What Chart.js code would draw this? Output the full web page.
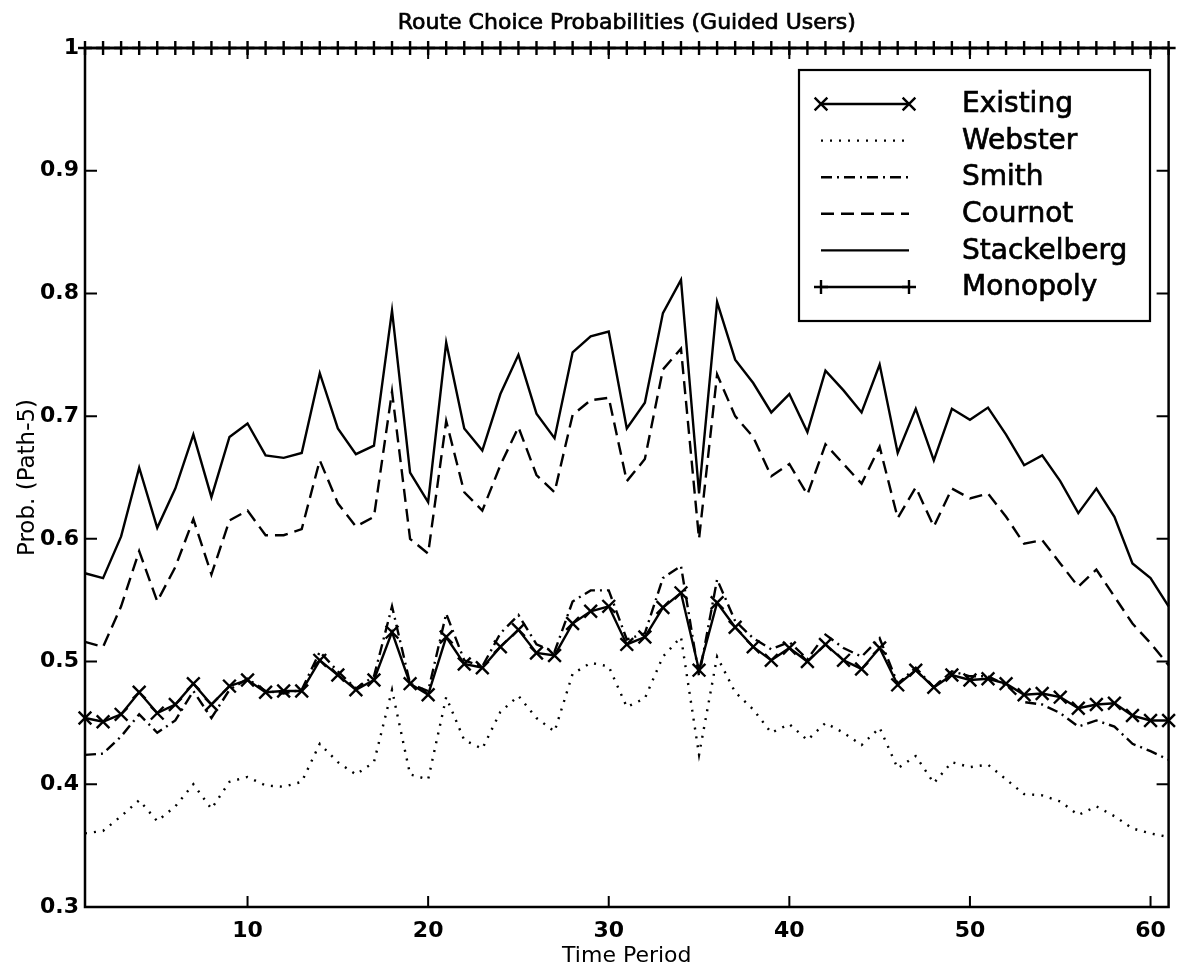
<!DOCTYPE html>
<html><head><meta charset="utf-8">
<script src="https://cdn.jsdelivr.net/npm/chart.js@4.4.1/dist/chart.umd.min.js"></script>
<style>html,body{margin:0;padding:0;background:#fff}#wrap{width:1180px;height:973px;position:relative}</style>
</head><body><div id="wrap"><canvas id="c"></canvas></div>
<script>
const timePeriods = [1,2,3,4,5,6,7,8,9,10,11,12,13,14,15,16,17,18,19,20,21,22,23,24,25,26,27,28,29,30,31,32,33,34,35,36,37,38,39,40,41,42,43,44,45,46,47,48,49,50,51,52,53,54,55,56,57,58,59,60,61];
const existing = [0.454,0.451,0.457,0.475,0.458,0.465,0.482,0.465,0.480,0.485,0.475,0.476,0.476,0.501,0.489,0.477,0.485,0.524,0.482,0.473,0.520,0.498,0.495,0.512,0.526,0.507,0.505,0.531,0.541,0.545,0.514,0.520,0.544,0.556,0.493,0.548,0.528,0.512,0.501,0.511,0.500,0.514,0.501,0.494,0.511,0.481,0.493,0.479,0.489,0.485,0.486,0.482,0.473,0.474,0.471,0.462,0.465,0.466,0.456,0.452,0.452];
const webster = [0.360,0.362,0.374,0.387,0.370,0.382,0.400,0.380,0.402,0.406,0.399,0.398,0.402,0.433,0.418,0.408,0.418,0.477,0.408,0.404,0.471,0.436,0.429,0.459,0.472,0.454,0.443,0.490,0.499,0.496,0.463,0.470,0.504,0.520,0.424,0.504,0.475,0.461,0.442,0.449,0.436,0.450,0.442,0.432,0.446,0.413,0.423,0.401,0.418,0.414,0.416,0.404,0.392,0.391,0.386,0.375,0.382,0.374,0.364,0.360,0.357];
const smith = [0.424,0.425,0.439,0.457,0.442,0.452,0.476,0.454,0.477,0.486,0.476,0.474,0.477,0.508,0.492,0.478,0.488,0.545,0.482,0.476,0.539,0.501,0.496,0.523,0.538,0.514,0.508,0.549,0.558,0.558,0.518,0.523,0.568,0.578,0.488,0.567,0.533,0.519,0.510,0.516,0.502,0.522,0.511,0.504,0.519,0.482,0.495,0.479,0.492,0.488,0.488,0.481,0.467,0.465,0.458,0.447,0.452,0.447,0.433,0.427,0.420];
const cournot = [0.516,0.512,0.545,0.590,0.549,0.577,0.616,0.571,0.615,0.623,0.603,0.603,0.608,0.664,0.629,0.610,0.618,0.720,0.600,0.588,0.696,0.638,0.623,0.660,0.691,0.652,0.638,0.701,0.713,0.715,0.647,0.665,0.738,0.755,0.600,0.734,0.700,0.683,0.651,0.661,0.636,0.677,0.661,0.645,0.675,0.617,0.642,0.610,0.641,0.633,0.637,0.618,0.596,0.599,0.580,0.561,0.575,0.553,0.531,0.515,0.497];
const stackelberg = [0.572,0.568,0.602,0.658,0.609,0.641,0.685,0.634,0.683,0.694,0.668,0.666,0.670,0.735,0.690,0.669,0.676,0.786,0.654,0.630,0.760,0.690,0.672,0.718,0.750,0.702,0.682,0.752,0.765,0.769,0.690,0.711,0.784,0.811,0.637,0.793,0.746,0.727,0.703,0.718,0.687,0.737,0.721,0.703,0.742,0.670,0.706,0.664,0.706,0.697,0.707,0.685,0.660,0.668,0.647,0.621,0.641,0.618,0.580,0.568,0.545];
const monopoly = [1,1,1,1,1,1,1,1,1,1,1,1,1,1,1,1,1,1,1,1,1,1,1,1,1,1,1,1,1,1,1,1,1,1,1,1,1,1,1,1,1,1,1,1,1,1,1,1,1,1,1,1,1,1,1,1,1,1,1,1,1];
const xTickValues = [10,20,30,40,50,60];
const yTickValues = [0.3,0.4,0.5,0.6,0.7,0.8,0.9,1];
const seriesNames = ['Existing','Webster','Smith','Cournot','Stackelberg','Monopoly'];
const chartTitle = 'Route Choice Probabilities (Guided Users)';
const xTitle = 'Time Period';
const yTitle = 'Prob. (Path-5)';

const FONT = 'DejaVu Sans';
const toPts = arr => arr.map((v, i) => ({x: timePeriods[i], y: v}));

const styles = [
  {dash: [], pointStyle: 'crossRot', radius: 9},
  {dash: [2, 7], pointStyle: false, radius: 0},
  {dash: [11, 5, 2, 5], pointStyle: false, radius: 0},
  {dash: [13, 7], pointStyle: false, radius: 0},
  {dash: [], pointStyle: false, radius: 0},
  {dash: [], pointStyle: 'cross', radius: 7}
];
const values = [existing, webster, smith, cournot, stackelberg, monopoly];

const datasets = values.map((vals, i) => ({
  label: seriesNames[i],
  data: toPts(vals),
  borderColor: '#000',
  backgroundColor: '#000',
  borderWidth: 2.4,
  borderDash: styles[i].dash,
  borderCapStyle: 'butt',
  pointStyle: styles[i].pointStyle || 'circle',
  pointRadius: styles[i].radius,
  pointHoverRadius: styles[i].radius,
  pointBorderWidth: 2.4,
  pointBorderColor: '#000',
  tension: 0,
  clip: false,
  fill: false
}));

function drawMarker(ctx, style, x, y, r) {
  ctx.save();
  ctx.setLineDash([]);
  ctx.lineWidth = 2.4;
  ctx.strokeStyle = '#000';
  ctx.beginPath();
  if (style === 'cross') {
    ctx.moveTo(x - r, y); ctx.lineTo(x + r, y);
    ctx.moveTo(x, y - r); ctx.lineTo(x, y + r);
  } else if (style === 'crossRot') {
    const d = r * 0.7071;
    ctx.moveTo(x - d, y - d); ctx.lineTo(x + d, y + d);
    ctx.moveTo(x - d, y + d); ctx.lineTo(x + d, y - d);
  }
  ctx.stroke();
  ctx.restore();
}

function heavyText(ctx, text, x, y) {
  ctx.fillText(text, x, y);
  ctx.save();
  ctx.lineWidth = 0.7;
  ctx.setLineDash([]);
  ctx.strokeText(text, x, y);
  ctx.restore();
}

const decorPlugin = {
  id: 'decor',
  afterDatasetsDraw(chart) {
    const ctx = chart.ctx;
    const a = chart.chartArea;
    const xs = chart.scales.x, ys = chart.scales.y;
    ctx.save();
    ctx.strokeStyle = '#000';
    ctx.lineWidth = 2.5;
    ctx.setLineDash([]);
    ctx.strokeRect(a.left, a.top, a.right - a.left, a.bottom - a.top);
    ctx.lineWidth = 2;
    ctx.beginPath();
    xTickValues.forEach(v => {
      const px = xs.getPixelForValue(v);
      ctx.moveTo(px, a.bottom); ctx.lineTo(px, a.bottom - 11);
      ctx.moveTo(px, a.top); ctx.lineTo(px, a.top + 11);
    });
    yTickValues.forEach(v => {
      const py = ys.getPixelForValue(v);
      ctx.moveTo(a.left, py); ctx.lineTo(a.left + 12, py);
      ctx.moveTo(a.right, py); ctx.lineTo(a.right - 12, py);
    });
    ctx.stroke();

    // legend
    const bx = 799, by = 70, bw = 351, bh = 251;
    ctx.fillStyle = '#fff';
    ctx.fillRect(bx, by, bw, bh);
    ctx.lineWidth = 2.2;
    ctx.strokeRect(bx, by, bw, bh);
    const x1 = 821, x2 = 909, tx = 962;
    ctx.font = '28px "' + FONT + '"';
    ctx.textAlign = 'left';
    ctx.textBaseline = 'middle';
    chart.data.datasets.forEach((ds, i) => {
      const y = 104 + i * 36.6;
      ctx.save();
      ctx.lineWidth = ds.borderWidth;
      ctx.setLineDash(ds.borderDash);
      ctx.lineCap = 'butt';
      ctx.beginPath();
      ctx.moveTo(x1, y); ctx.lineTo(x2, y);
      ctx.stroke();
      ctx.restore();
      if (ds.pointRadius > 0) {
        drawMarker(ctx, ds.pointStyle, x1, y, ds.pointRadius);
        drawMarker(ctx, ds.pointStyle, x2, y, ds.pointRadius);
      }
      ctx.fillStyle = '#000';
      heavyText(ctx, ds.label, tx, y + 1);
    });

    // title
    ctx.font = '22px "' + FONT + '"';
    ctx.textAlign = 'center';
    ctx.textBaseline = 'alphabetic';
    ctx.fillStyle = '#000';
    heavyText(ctx, chartTitle, (a.left + a.right) / 2, 29);
    ctx.restore();
  }
};

new Chart(document.getElementById('c'), {
  type: 'line',
  data: {datasets},
  plugins: [decorPlugin],
  options: {
    responsive: true,
    maintainAspectRatio: false,
    animation: false,
    events: [],
    layout: {padding: {top: 48, right: 3, left: 0, bottom: 0}},
    plugins: {legend: {display: false}, title: {display: false}, tooltip: {enabled: false}},
    scales: {
      x: {
        type: 'linear', min: 1, max: 61,
        afterBuildTicks(s) { s.ticks = xTickValues.map(v => ({value: v})); },
        afterFit(s) { s.height = 66; },
        grid: {display: false, drawTicks: false},
        border: {display: false},
        ticks: {padding: 11, maxRotation: 0, autoSkip: false, color: '#000', font: {family: FONT, weight: 'bold', size: 22}},
        title: {display: true, text: xTitle, color: '#000', font: {family: FONT, size: 22}, padding: {top: 0, bottom: 4}}
      },
      y: {
        type: 'linear', min: 0.3, max: 1,
        afterBuildTicks(s) { s.ticks = yTickValues.map(v => ({value: v})); },
        afterFit(s) { s.width = 85; },
        grid: {display: false, drawTicks: false},
        border: {display: false},
        ticks: {padding: 6, color: '#000', font: {family: FONT, weight: 'bold', size: 22}, callback: v => String(+Number(v).toFixed(1))},
        title: {display: true, text: yTitle, color: '#000', font: {family: FONT, size: 23}, padding: {top: 14, bottom: 0}}
      }
    }
  }
});
</script></body></html>
